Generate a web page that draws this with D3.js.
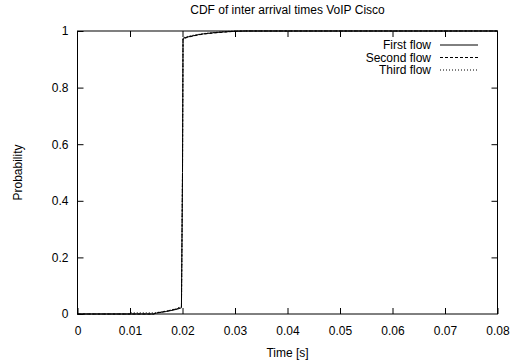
<!DOCTYPE html>
<html>
<head>
<meta charset="utf-8">
<script src="https://cdn.jsdelivr.net/npm/d3@7"></script>
<style>
  body { margin: 0; background: #fff; }
  text { font-family: "Liberation Sans", Arial, sans-serif; font-size: 12px; fill: #000; }
</style>
</head>
<body>
<div id="main"></div>
<script>
const ctx = {
    w: 518,
    h: 363,
    left: 77.5, right: 497.5, top: 31, bottom: 314,
};

// x ticks and y ticks
const xTicks = [0, 0.01, 0.02, 0.03, 0.04, 0.05, 0.06, 0.07, 0.08];
const yTicks = [0, 0.2, 0.4, 0.6, 0.8, 1];

// CDF samples: [time, probability]
const firstFlow = [
    [0, 0], [0.0145, 0], [0.015, 0.003], [0.016, 0.006], [0.017, 0.009],
    [0.018, 0.013], [0.019, 0.017], [0.0198, 0.022], [0.0200, 0.5],
    [0.0201, 0.974], [0.021, 0.979], [0.022, 0.983], [0.023, 0.987],
    [0.024, 0.990], [0.026, 0.994], [0.028, 0.997], [0.03, 0.999],
    [0.032, 1], [0.08, 1]
];
const secondFlow = [
    [0, 0], [0.0145, 0], [0.015, 0.004], [0.016, 0.007], [0.017, 0.010],
    [0.018, 0.014], [0.019, 0.019], [0.0198, 0.025], [0.0200, 0.5],
    [0.0201, 0.972], [0.021, 0.978], [0.022, 0.982], [0.023, 0.986],
    [0.024, 0.989], [0.026, 0.993], [0.028, 0.996], [0.03, 0.999],
    [0.032, 1], [0.08, 1]
];
const thirdFlow = [
    [0, 0], [0.0099, 0], [0.0100, 0.004], [0.0145, 0.004], [0.015, 0.005],
    [0.016, 0.008], [0.017, 0.011], [0.018, 0.015], [0.019, 0.020],
    [0.0198, 0.027], [0.0200, 0.5], [0.0201, 0.976], [0.021, 0.981],
    [0.022, 0.985], [0.023, 0.988], [0.024, 0.991], [0.026, 0.995],
    [0.028, 0.998], [0.03, 1], [0.08, 1]
];

const seriesNames = ["First flow", "Second flow", "Third flow"];
const seriesData = [firstFlow, secondFlow, thirdFlow];
const seriesDash = [null, "3,2", "1,2"];

function createViz(){
    let svgEl = d3.select("#main").append("svg")
        .attr("width", ctx.w)
        .attr("height", ctx.h);

    ctx.xScale = d3.scaleLinear().domain([0, 0.08]).range([ctx.left, ctx.right]);
    ctx.yScale = d3.scaleLinear().domain([0, 1]).range([ctx.bottom, ctx.top]);

    let bkgG = svgEl.append("g").attr("id", "bkgG");

    // inward ticks on all four sides (gnuplot style)
    let tk = 6;
    bkgG.append("g")
      .attr("transform", `translate(0,${ctx.bottom})`)
      .call(d3.axisBottom(ctx.xScale).tickValues(xTicks).tickSizeInner(-tk).tickSizeOuter(0)
            .tickPadding(tk + 6).tickFormat(d3.format("~g")))
      .call(g => g.select(".domain").remove());
    bkgG.append("g")
      .attr("transform", `translate(0,${ctx.top})`)
      .call(d3.axisTop(ctx.xScale).tickValues(xTicks.slice(1, -1)).tickSizeInner(-tk).tickSizeOuter(0)
            .tickFormat(""))
      .call(g => g.select(".domain").remove());
    bkgG.append("g")
      .attr("transform", `translate(${ctx.left},0)`)
      .call(d3.axisLeft(ctx.yScale).tickValues(yTicks).tickSizeInner(-tk).tickSizeOuter(0)
            .tickPadding(tk + 3).tickFormat(d3.format("~g")))
      .call(g => g.select(".domain").remove());
    bkgG.append("g")
      .attr("transform", `translate(${ctx.right},0)`)
      .call(d3.axisRight(ctx.yScale).tickValues(yTicks.slice(1, -1)).tickSizeInner(-tk).tickSizeOuter(0)
            .tickFormat(""))
      .call(g => g.select(".domain").remove());
    bkgG.selectAll(".tick text").style("font-size", "12px")
      .style("font-family", "'Liberation Sans', Arial, sans-serif");
    bkgG.selectAll(".tick line").attr("stroke", "#000");

    // frame
    bkgG.append("rect")
      .attr("x", ctx.left).attr("y", ctx.top)
      .attr("width", ctx.right - ctx.left).attr("height", ctx.bottom - ctx.top)
      .attr("fill", "none").attr("stroke", "#000").attr("stroke-width", 1);

    // title and axis labels
    svgEl.append("text")
      .attr("x", (ctx.left + ctx.right) / 2).attr("y", 14)
      .attr("text-anchor", "middle")
      .text("CDF of inter arrival times VoIP Cisco");
    svgEl.append("text")
      .attr("x", (ctx.left + ctx.right) / 2).attr("y", 357)
      .attr("text-anchor", "middle")
      .text("Time [s]");
    svgEl.append("text")
      .attr("transform", `translate(22,${(ctx.top + ctx.bottom) / 2}) rotate(-90)`)
      .attr("text-anchor", "middle")
      .text("Probability");

    // curves
    let line = d3.line()
      .x(d => ctx.xScale(d[0]))
      .y(d => ctx.yScale(d[1]));
    let dataG = svgEl.append("g").attr("id", "dataG");
    seriesData.forEach((s, i) => {
        dataG.append("path")
          .attr("d", line(s))
          .attr("fill", "none")
          .attr("stroke", "#000")
          .attr("stroke-width", 1)
          .attr("stroke-dasharray", seriesDash[i]);
    });

    // legend
    let legG = svgEl.append("g").attr("id", "legG");
    seriesNames.forEach((n, i) => {
        let y = 45 + i * 12.5;
        legG.append("text")
          .attr("x", 431).attr("y", y + 4)
          .attr("text-anchor", "end")
          .text(n);
        legG.append("line")
          .attr("x1", 440).attr("x2", 478)
          .attr("y1", y).attr("y2", y)
          .attr("stroke", "#000")
          .attr("stroke-width", 1)
          .attr("stroke-dasharray", seriesDash[i]);
    });
}

createViz();
</script>
</body>
</html>
